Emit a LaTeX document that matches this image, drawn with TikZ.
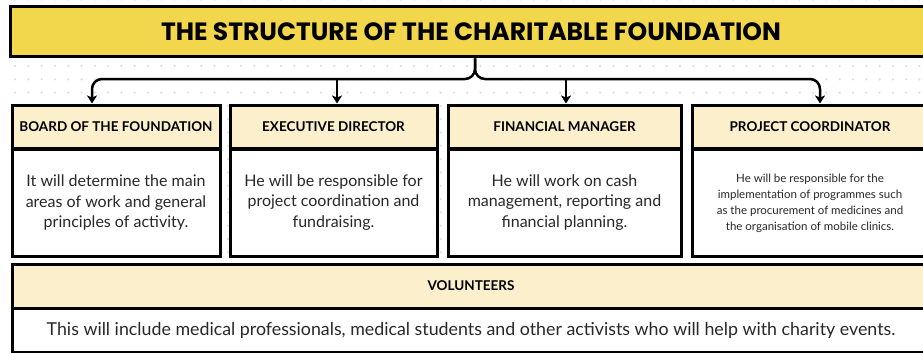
\documentclass[tikz,border=0pt]{standalone}
\usepackage{fontspec}
\setmainfont{Lato}
\newfontfamily\titlefont{Poppins}
\usetikzlibrary{arrows.meta}
\definecolor{titleyellow}{RGB}{242,214,76}
\definecolor{cream}{RGB}{252,239,204}
\definecolor{dotgray}{RGB}{226,226,226}
\definecolor{bodytext}{RGB}{40,40,40}
\begin{document}
\begin{tikzpicture}[x=1pt,y=-1pt,
  box/.style={draw=black, line width=3pt, inner sep=0pt},
  headbox/.style={box, fill=cream, font=\bfseries\fontsize{13.5}{15}\selectfont},
  bodybox/.style={box, fill=white, align=center, text=bodytext, font=\fontsize{16}{20.5}\selectfont},
  conn/.style={line width=2.5pt, rounded corners=10pt, -{Stealth[length=8pt,width=10pt,inset=2pt]}}]
\useasboundingbox (0,0) rectangle (923,353);
\clip (0,0) rectangle (923,353);
\fill[white] (0,0) rectangle (923,353);
% dot grid
\foreach \i in {0,...,69}{
  \foreach \j in {-5,...,22}{
    \fill[dotgray] ({15+13.3*\i},{66+13.3*\j}) circle[radius=1.3];
  }
}
% title
\node[box, fill=titleyellow, minimum width=922, minimum height=50,
      font=\titlefont\bfseries\fontsize{25}{28}\selectfont] (T) at (471,32)
      {THE STRUCTURE OF THE CHARITABLE FOUNDATION};
% headers
\node[headbox, minimum width=208, minimum height=43] (h1) at (116,126.5) {BOARD OF THE FOUNDATION};
\node[headbox, minimum width=207, minimum height=43] (h2) at (333.5,126.5) {EXECUTIVE DIRECTOR};
\node[headbox, minimum width=233, minimum height=43] (h3) at (564.5,126.5) {FINANCIAL MANAGER};
\node[headbox, minimum width=236, minimum height=43] (h4) at (810,126.5) {PROJECT COORDINATOR};
% bodies
\node[bodybox, minimum width=208, minimum height=107] (b1) at (116,202.5)
  {It will determine the main\\areas of work and general\\principles of activity.};
\node[bodybox, minimum width=207, minimum height=107] (b2) at (333.5,202.5)
  {He will be responsible for\\project coordination and\\fundraising.};
\node[bodybox, minimum width=233, minimum height=107] (b3) at (564.5,202.5)
  {He will work on cash\\management, reporting and\\financial planning.};
\node[bodybox, minimum width=236, minimum height=107, font=\fontsize{11.5}{16}\selectfont] (b4) at (810,203)
  {He will be responsible for the\\implementation of programmes such\\as the procurement of medicines and\\the organisation of mobile clinics.};
% volunteers
\node[headbox, minimum width=918, minimum height=44] (vh) at (471,286) {VOLUNTEERS};
\node[bodybox, minimum width=918, minimum height=44, font=\fontsize{17.8}{20}\selectfont] (vb) at (471,330)
  {This will include medical professionals, medical students and other activists who will help with charity events.};
% connectors
\coordinate (bar) at (0,79);
\coordinate (stem) at ([xshift=4]T.south);
\coordinate (a1) at ([xshift=-24]h1.north);
\coordinate (a2) at ([xshift=3.5]h2.north);
\coordinate (a3) at ([xshift=1.5]h3.north);
\coordinate (a4) at ([xshift=10]h4.north);
\draw[conn] (stem) |- (a1 |- bar) -- (a1);
\draw[conn] (stem) |- (a4 |- bar) -- (a4);
\draw[conn] (a2 |- bar) -- (a2);
\draw[conn] (a3 |- bar) -- (a3);
\end{tikzpicture}
\end{document}
